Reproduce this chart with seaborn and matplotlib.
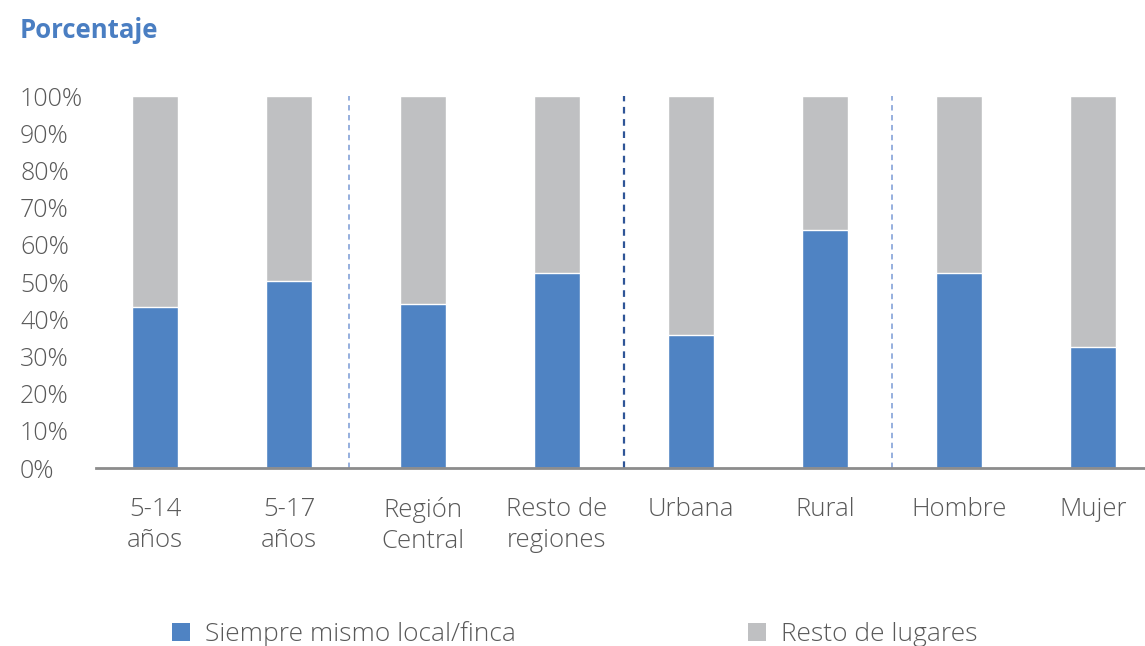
import numpy as np
import pandas as pd
import matplotlib
matplotlib.use("Agg")
import matplotlib.pyplot as plt
import seaborn as sns
from matplotlib.patches import Patch
from matplotlib.ticker import PercentFormatter

# Datos
categorias = ["5-14\naños", "5-17\naños", "Región\nCentral", "Resto de\nregiones",
              "Urbana", "Rural", "Hombre", "Mujer"]
mismo_local = [43.3, 50.3, 44.1, 52.4, 35.8, 64.0, 52.4, 32.5]
resto_lugares = [100 - v for v in mismo_local]
serie_nombres = ["Siempre mismo local/finca", "Resto de lugares"]
ticks_y = list(range(0, 101, 10))

azul = "#4F83C3"
gris = "#BFC0C2"
texto = "#595959"

sns.set_theme(style="white")
plt.rcParams["font.family"] = ["Open Sans", "DejaVu Sans"]
plt.rcParams["font.weight"] = "light"

df = pd.DataFrame({
    "Categoria": categorias,
    "Mismo": mismo_local,
    "Total": [m + r for m, r in zip(mismo_local, resto_lugares)],
})

fig = plt.figure(figsize=(11.45, 6.46), dpi=100)
ax = fig.add_axes([96 / 1145, 1 - 468 / 646, 1 - 96 / 1145, (468 - 96) / 646])

# barra total (gris) y encima la parte azul
sns.barplot(data=df, x="Categoria", y="Total", color=gris, width=0.345,
            saturation=1, ax=ax)
sns.barplot(data=df, x="Categoria", y="Mismo", color=azul, width=0.345,
            saturation=1, ax=ax)

# lineas divisorias punteadas
ax.axvline(1.45, color="#8EA9DB", linestyle=(0, (3, 2.5)), linewidth=1.3)
ax.axvline(3.5, color="#2F5597", linestyle=(0, (3, 2.5)), linewidth=1.6)
ax.axvline(5.5, color="#8EA9DB", linestyle=(0, (3, 2.5)), linewidth=1.3)

ax.set_xlim(-0.44, 7.39)
ax.set_ylim(0, 100)
ax.set_yticks(ticks_y)
ax.yaxis.set_major_formatter(PercentFormatter(decimals=0))
ax.set_xlabel("")
ax.set_ylabel("")

for s in ["top", "right", "left"]:
    ax.spines[s].set_visible(False)
ax.spines["bottom"].set_color("#8C8C8C")
ax.spines["bottom"].set_linewidth(2)

ax.tick_params(axis="y", length=0, pad=54.7, labelsize=18, labelcolor=texto)
ax.tick_params(axis="x", length=0, pad=21, labelsize=18.5, labelcolor=texto)
for lbl in ax.get_yticklabels():
    lbl.set_horizontalalignment("left")
for lbl in ax.get_xticklabels():
    lbl.set_linespacing(1.3)

fig.text(20 / 1145, 1 - 31 / 646, "Porcentaje", color="#4A7EC2", fontsize=18.5,
         fontweight="bold", va="center", ha="left")

handles = [Patch(facecolor=azul, edgecolor="none", label=serie_nombres[0]),
           Patch(facecolor=gris, edgecolor="none", label=serie_nombres[1])]
leg = fig.legend(handles=handles, loc="center left",
                 bbox_to_anchor=(148 / 1145, 1 - 634 / 646), ncol=2, frameon=False,
                 fontsize=19, handlelength=0.68, handleheight=0.68, handletextpad=0.57,
                 columnspacing=8.8, labelcolor=texto)

fig.savefig("out.png", dpi=100, facecolor="white")
